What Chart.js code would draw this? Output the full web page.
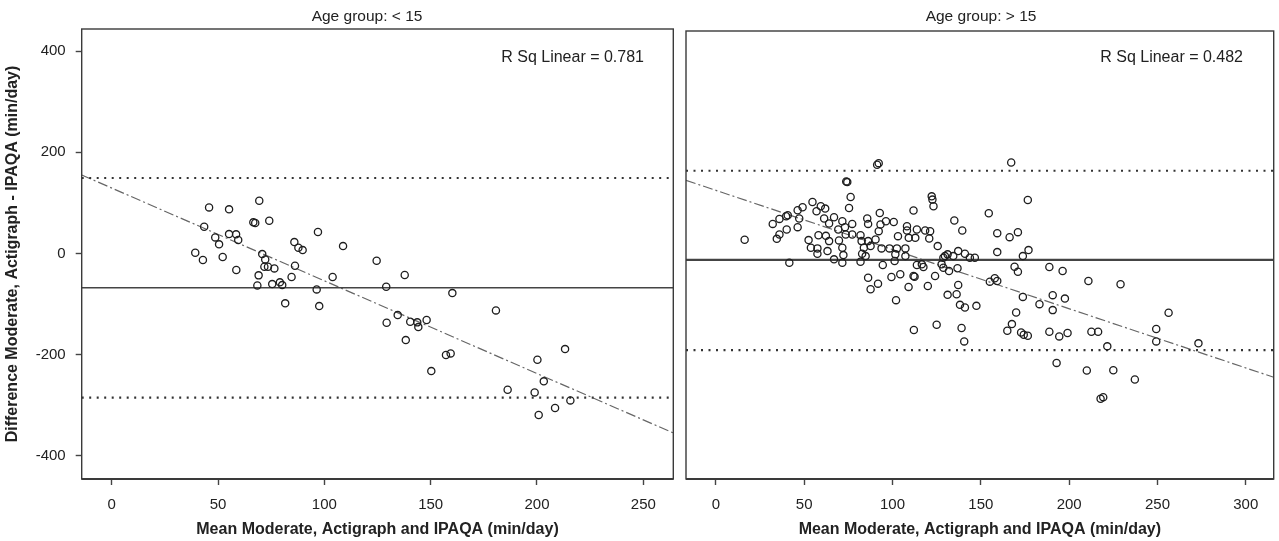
<!DOCTYPE html>
<html><head><meta charset="utf-8">
<script src="https://cdn.jsdelivr.net/npm/chart.js@4.4.1/dist/chart.umd.min.js"></script>
<style>
html,body{margin:0;padding:0;background:#fff;width:1279px;height:541px;overflow:hidden}
.pane{position:absolute;top:0;height:541px}
#pL{left:0;width:680px}
#pR{left:680px;width:599px}
</style></head><body>
<div class="pane" id="pL"><canvas id="cL"></canvas></div>
<div class="pane" id="pR"><canvas id="cR"></canvas></div>
<script>
// axis ranges (min/day)
var yRange=[-446,443.5];
var yTicks=[-400,-200,0,200,400];
var leftXRange=[-14.1,264.1];
var rightXRange=[-16.9,315.8];
var leftXTicks=[0,50,100,150,200,250];
var rightXTicks=[0,50,100,150,200,250,300];

// Age group < 15
var leftX=[45.8,55.2,69.4,66.6,67.5,74.1,43.5,48.7,50.5,55.2,
  58.5,59.5,39.3,42.9,52.2,58.6,70.8,72.2,71.8,73.5,
  76.5,69.1,68.5,75.5,79.1,80.2,81.6,85.9,87.8,89.8,
  86.2,84.6,97.0,96.4,97.6,108.8,103.9,124.6,137.8,129.1,
  160.2,134.5,129.3,140.4,143.7,144.2,148.1,138.3,157.2,159.4,
  150.3,180.7,200.2,213.2,203.2,186.2,198.9,200.8,208.5,215.7];
var leftY=[90.9,87.0,104.0,61.3,59.9,64.4,52.6,31.6,17.8,38.1,
  37.6,26.3,1.2,-13.2,-7.3,-33.0,-1.4,-11.9,-26.5,-26.5,
  -29.7,-43.5,-63.3,-60.7,-57.3,-62.7,-98.8,22.3,11.1,6.5,
  -24.5,-46.8,42.1,-71.2,-104.2,14.4,-46.8,-14.6,-42.9,-66.0,
  -78.5,-122.0,-137.2,-135.2,-136.4,-145.7,-131.8,-171.4,-201.0,-197.7,
  -232.7,-112.7,-210.3,-189.2,-253.0,-269.6,-274.8,-319.6,-305.8,-290.6];
var leftMean=-68, leftUpper=149, leftLower=-285;
var leftFitX=[-14.1,264.1], leftFitY=[155,-355];

// Age group > 15
var rightX=[16.3,32.2,36.0,39.8,40.7,34.5,36.0,40.1,41.6,46.3,
  47.2,46.3,49.1,54.7,57.0,59.4,61.9,52.5,53.8,57.5,
  57.5,58.1,62.3,64.1,63.2,61.3,64.1,66.9,69.3,71.6,
  74.4,73.8,76.3,75.4,77.2,73.1,73.5,69.7,71.6,72.2,
  66.9,71.6,77.2,81.9,82.5,83.8,82.8,81.9,84.8,86.2,
  87.6,85.7,86.2,91.3,92.2,92.8,93.2,92.2,90.4,93.8,
  96.3,100.7,103.1,94.5,86.2,87.6,91.8,99.4,104.4,98.3,
  102.5,101.6,101.2,107.3,108.2,108.2,109.2,107.3,111.9,113.8,
  112.9,113.8,111.9,112.5,109.1,102.0,116.6,117.5,118.5,121.3,
  122.2,122.6,123.2,120.8,125.6,124.1,120.0,128.8,129.7,131.2,
  127.8,128.8,132.0,135.0,139.5,134.4,137.2,141.0,143.8,146.6,
  136.8,137.2,136.3,131.2,138.2,141.0,147.5,112.1,125.0,139.1,
  140.6,167.2,176.6,154.5,159.3,166.3,171.0,159.3,177.0,173.8,
  169.1,171.0,155.1,157.9,159.3,173.8,170.0,167.6,165.0,172.8,
  174.3,176.6,188.8,196.3,190.7,197.6,183.2,190.7,188.8,194.4,
  199.1,192.9,210.9,229.1,212.6,216.4,221.6,210.0,225.0,237.2,
  217.8,219.3,256.3,249.3,249.3,273.2];
var rightY=[28.9,60.5,70.4,75.7,77.7,30.8,39.5,49.4,-16.6,54.0,
  71.2,87.6,93.5,104.0,85.6,95.5,90.9,28.3,13.0,11.9,
  1.2,38.1,36.8,26.3,6.5,71.2,61.3,73.7,49.4,65.8,
  143.5,144.9,113.9,92.1,60.5,54.0,39.5,27.7,13.0,-1.4,
  -9.9,-16.6,39.5,38.1,26.3,13.0,1.2,-14.6,-3.4,26.3,
  16.4,71.2,60.5,177.9,181.1,82.2,59.3,46.1,29.7,11.9,
  65.8,64.4,36.2,-21.2,-46.3,-69.2,-58.1,-44.9,-39.5,11.9,
  11.9,0,-13.2,11.9,55.9,47.4,32.8,-3.4,87.0,49.4,
  32.8,-21.2,-42.9,-44.3,-64.6,-90.9,-19.8,-25.1,47.4,46.1,
  115.2,108.7,95.5,31.6,16.4,-42.9,-62.7,-6.7,-3.4,0,
  -19.8,-26.5,-33.0,67.2,47.4,-3.4,6.5,1.2,-6.7,-6.7,
  -27.7,-60.7,-79.1,-80.4,-100.2,-105.6,-102.2,-150.2,-139.8,-146.3,
  -172.8,182.4,107.9,81.6,42.1,34.2,44.1,4.5,8.5,-3.4,
  -24.5,-34.4,-54.2,-47.4,-52.8,-84.4,-115.4,-138.4,-151.6,-155.0,
  -159.5,-161.5,-25.1,-33.0,-81.0,-87.8,-98.8,-110.7,-153.6,-162.9,
  -156.2,-215.5,-52.8,-59.3,-153.6,-153.6,-182.6,-230.7,-230.1,-248.5,
  -286.6,-283.5,-116.0,-148.3,-172.8,-176.7];
var rightMean=-11, rightUpper=166, rightLower=-190;
var rightFitX=[-16.9,315.8], rightFitY=[147,-244];

var FONT="'Liberation Sans', Arial, Helvetica, sans-serif";
var INK="#222";

// frame around plot + panel heading + R sq note
var panelText={
  id:"panelText",
  afterDraw:function(chart,args,o){
    var a=chart.chartArea,ctx=chart.ctx;
    ctx.save();
    ctx.strokeStyle="#3a3a3a";ctx.lineWidth=1.4;
    ctx.strokeRect(a.left,a.top,a.right-a.left,a.bottom-a.top);
    ctx.lineWidth=2.2;
    ctx.beginPath();ctx.moveTo(a.left,a.bottom);ctx.lineTo(a.right,a.bottom);ctx.stroke();
    ctx.fillStyle=INK;
    ctx.font="15.5px "+FONT;ctx.textAlign="center";ctx.textBaseline="middle";
    ctx.fillText(o.title,o.titleX,17);
    ctx.font="16px "+FONT;ctx.textAlign="right";
    ctx.fillText(o.rsq,o.rsqX,58);
    ctx.restore();
  }
};

function pts(xs,ys){return xs.map(function(x,i){return {x:x,y:ys[i]}})}
function hline(r,v){return [{x:r[0],y:v},{x:r[1],y:v}]}

function makeDatasets(xs,ys,r,mean,up,lo,fx,fy,meanW){
  return [
    {data:pts(xs,ys),pointRadius:3.6,pointBorderWidth:1.3,pointBorderColor:"#1e1e1e",pointBackgroundColor:"rgba(0,0,0,0)",showLine:false,order:0},
    {data:hline(r,mean),showLine:true,borderColor:"#444",borderWidth:meanW,pointRadius:0,order:1},
    {data:hline(r,up),showLine:true,borderColor:"#333",borderWidth:2,borderDash:[2,5.5],pointRadius:0,order:1},
    {data:hline(r,lo),showLine:true,borderColor:"#333",borderWidth:2.2,borderDash:[2,5.5],pointRadius:0,order:1},
    {data:pts(fx,fy),showLine:true,borderColor:"#666",borderWidth:1.2,borderDash:[10,3,2,3],pointRadius:0,order:1}
  ];
}

function xScale(r,ticks){
  return {type:"linear",min:r[0],max:r[1],
    afterBuildTicks:function(s){s.ticks=ticks.map(function(v){return {value:v}})},
    afterFit:function(s){s.height=62},
    grid:{drawOnChartArea:false,drawTicks:true,tickLength:6,tickWidth:1.4,tickColor:"#444"},
    border:{display:false},
    ticks:{color:INK,font:{family:FONT,size:15},padding:11,maxRotation:0},
    title:{display:true,text:"Mean Moderate, Actigraph and IPAQA (min/day)",color:INK,font:{family:FONT,size:16,weight:"bold"},padding:{top:0,bottom:2}}
  };
}

function baseOpts(padding,xr,xt,yOpts,txt){
  return {
    responsive:true,maintainAspectRatio:false,animation:false,devicePixelRatio:1,
    layout:{padding:padding},
    plugins:{legend:{display:false},tooltip:{enabled:false},panelText:txt},
    scales:{x:xScale(xr,xt),y:yOpts}
  };
}

var yLeft={type:"linear",min:yRange[0],max:yRange[1],
  afterBuildTicks:function(s){s.ticks=yTicks.map(function(v){return {value:v}})},
  afterFit:function(s){s.width=81.7},
  grid:{drawOnChartArea:false,drawTicks:true,tickLength:6,tickWidth:1.4,tickColor:"#444"},
  border:{display:false},
  ticks:{color:INK,font:{family:FONT,size:15},padding:10},
  title:{display:true,text:"Difference Moderate, Actigraph - IPAQA (min/day)",color:INK,font:{family:FONT,size:16,weight:"bold"},padding:{top:3,bottom:0}}
};
var yRight={type:"linear",min:yRange[0],max:yRange[1],display:false};

new Chart(document.getElementById("cL"),{
  type:"scatter",
  data:{datasets:makeDatasets(leftX,leftY,leftXRange,leftMean,leftUpper,leftLower,leftFitX,leftFitY,1.6)},
  options:baseOpts({top:29,right:6.7,bottom:0,left:0},leftXRange,leftXTicks,yLeft,
    {title:"Age group: < 15",titleX:367,rsq:"R Sq Linear = 0.781",rsqX:644}),
  plugins:[panelText]
});

new Chart(document.getElementById("cR"),{
  type:"scatter",
  data:{datasets:makeDatasets(rightX,rightY,rightXRange,rightMean,rightUpper,rightLower,rightFitX,rightFitY,2.2)},
  options:baseOpts({top:31,right:1.5,bottom:0,left:6},rightXRange,rightXTicks,yRight,
    {title:"Age group: > 15",titleX:301,rsq:"R Sq Linear = 0.482",rsqX:563}),
  plugins:[panelText]
});
</script>
</body></html>
